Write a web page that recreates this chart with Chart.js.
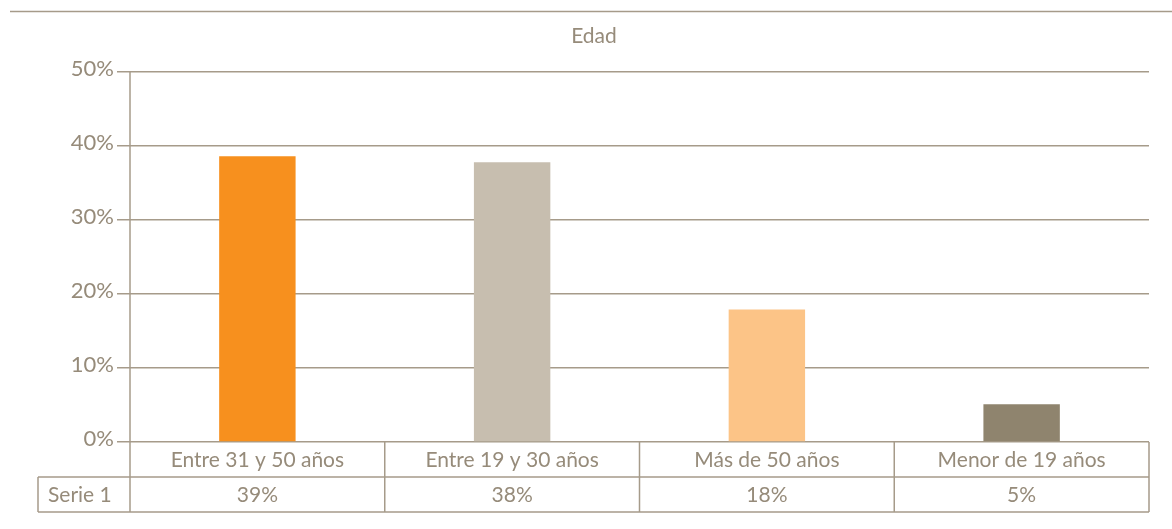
<!DOCTYPE html>
<html>
<head>
<meta charset="utf-8">
<script src="https://cdn.jsdelivr.net/npm/chart.js@4.4.1/dist/chart.umd.min.js"></script>
<style>
  html, body { margin: 0; padding: 0; background: #fff; }
  #wrap { width: 1172px; height: 529px; }
</style>
</head>
<body>
<div id="wrap"><canvas id="edadChart" width="1172" height="529"></canvas></div>
<script>
// datos
const categorias = ['Entre 31 y 50 años', 'Entre 19 y 30 años', 'Más de 50 años', 'Menor de 19 años'];
const serie1 = [38.6, 37.8, 17.9, 5.1];
const colores = ['#f7901e', '#c7beaf', '#fcc487', '#8f846e'];
const ticksY = [0, 10, 20, 30, 40, 50];
const nombreSerie = 'Serie 1';
const titulo = 'Edad';

const LINEA = '#a69b8a';
const TEXTO = '#968b7a';
const FUENTE = 'Lato, "Open Sans", sans-serif';

// tabla de datos bajo el eje + línea superior + título
const tablaPlugin = {
    id: 'tablaDatos',
    afterDraw(chart) {
        const ctx = chart.ctx;
        const area = chart.chartArea;
        const x = chart.scales.x;
        const fila = 35;
        const y0 = area.bottom;
        const y1 = y0 + fila;
        const y2 = y1 + fila;
        const izq = 38;
        const n = categorias.length;
        const ancho = (area.right - area.left) / n;

        ctx.save();
        ctx.strokeStyle = LINEA;
        ctx.lineWidth = 1.5;

        // línea superior
        ctx.beginPath();
        ctx.moveTo(10, 11.5);
        ctx.lineTo(chart.width, 11.5);
        ctx.stroke();

        // eje vertical hasta el final de la tabla
        ctx.beginPath();
        ctx.moveTo(area.left, area.top);
        ctx.lineTo(area.left, y2);
        ctx.stroke();

        // horizontales de la tabla
        ctx.beginPath();
        ctx.moveTo(izq, y1);
        ctx.lineTo(area.right, y1);
        ctx.moveTo(izq, y2);
        ctx.lineTo(area.right, y2);
        ctx.moveTo(izq, y1);
        ctx.lineTo(izq, y2);
        for (let i = 1; i <= n; i++) {
            const xl = area.left + ancho * i;
            ctx.moveTo(xl, y0);
            ctx.lineTo(xl, y2);
        }
        ctx.stroke();

        // textos
        ctx.fillStyle = TEXTO;
        ctx.font = '21px ' + FUENTE;
        ctx.textBaseline = 'middle';
        ctx.textAlign = 'center';
        categorias.forEach((c, i) => {
            const cx = x.getPixelForValue(i);
            ctx.fillText(c, cx, y0 + fila / 2 + 1);
            ctx.fillText(Math.round(serie1[i]) + '%', cx, y1 + fila / 2 + 1);
        });
        ctx.textAlign = 'left';
        ctx.fillText(nombreSerie, izq + 10, y1 + fila / 2 + 1);

        // título
        ctx.font = '21px ' + FUENTE;
        ctx.textAlign = 'center';
        ctx.fillText(titulo, 594, 36);
        ctx.restore();
    }
};

new Chart(document.getElementById('edadChart'), {
    type: 'bar',
    data: {
        labels: categorias,
        datasets: [{
            label: nombreSerie,
            data: serie1,
            backgroundColor: colores,
            borderWidth: 0,
            categoryPercentage: 1,
            barPercentage: 0.3
        }]
    },
    options: {
        responsive: false,
        animation: false,
        devicePixelRatio: 1,
        layout: { padding: { top: 72, bottom: 87, right: 23, left: 0 } },
        plugins: {
            legend: { display: false },
            title: { display: false },
            tooltip: { enabled: false }
        },
        scales: {
            x: { display: false },
            y: {
                min: 0,
                max: 50,
                afterBuildTicks: scale => { scale.ticks = ticksY.map(v => ({ value: v })); },
                afterFit: scale => { scale.width = 130; },
                border: { display: false },
                grid: { color: LINEA, lineWidth: 1.5, tickLength: 13 },
                ticks: {
                    color: TEXTO,
                    padding: 3,
                    labelOffset: -3,
                    font: { family: FUENTE, size: 22 },
                    callback: v => v + '%'
                }
            }
        }
    },
    plugins: [tablaPlugin]
});
</script>
</body>
</html>
